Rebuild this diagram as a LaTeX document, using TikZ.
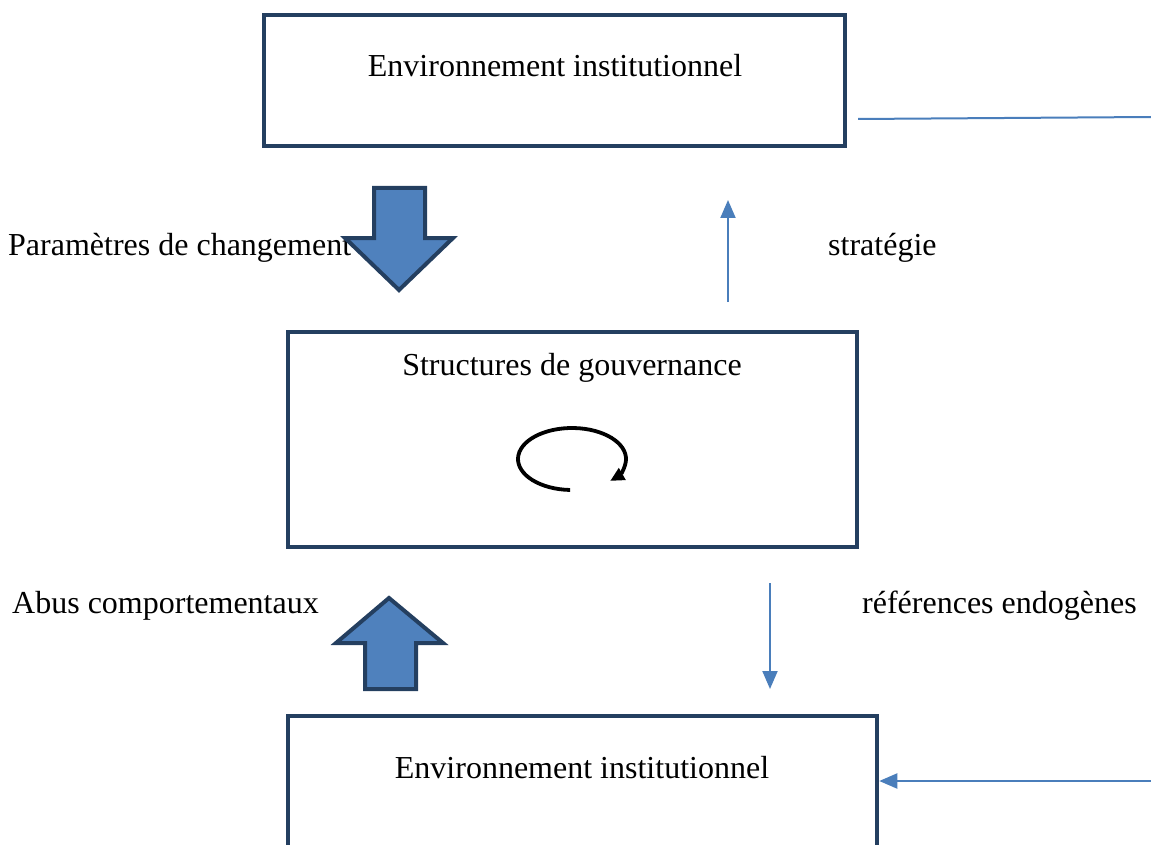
\documentclass[tikz,border=0pt]{standalone}
\usepackage{fontspec}
\setmainfont{Liberation Serif}
\usetikzlibrary{arrows.meta}
\definecolor{navy}{HTML}{243F60}
\definecolor{fillblue}{HTML}{4F81BD}
\definecolor{lineblue}{HTML}{4A7EBB}
\tikzset{
  box/.style={draw=navy, line width=4.5pt, fill=none, inner sep=0pt},
  txt/.style={font=\fontsize{32}{38}\selectfont, inner sep=0pt},
  bigarrow/.style={draw=navy, fill=fillblue, line width=4pt, line join=miter},
  thin/.style={draw=lineblue, line width=2pt},
  thinarrow/.style={thin, -{Triangle[length=18pt,width=15pt]}, color=lineblue},
  cyclearrow/.style={line width=3.8pt, -{Triangle[length=14pt,width=13pt]}},
}
\begin{document}
\begin{tikzpicture}[x=1pt,y=-1pt]
\useasboundingbox (0,0) rectangle (1151,845);
% boxes
\node[box, minimum width=581pt, minimum height=131pt] (topbox) at (554.5,80.5) {};
\node[txt, anchor=base] (toptext) at (555,77) {Environnement institutionnel};
\node[box, minimum width=569pt, minimum height=215pt] (midbox) at (572.5,439.5) {};
\node[txt, anchor=base] (midtext) at (572,375) {Structures de gouvernance};
\node[box, minimum width=589pt, minimum height=200pt] (botbox) at (582.5,816) {};
\node[txt, anchor=base] (bottext) at (582,778) {Environnement institutionnel};
% side labels
\node[txt, anchor=base west] (param) at (8,255) {Paramètres de changement};
\node[txt, anchor=base west] (strat) at (828,255) {stratégie};
\node[txt, anchor=base west] (abus) at (12,613) {Abus comportementaux};
\node[txt, anchor=base west] (refs) at (862,613) {références endogènes};
% big down arrow
\draw[bigarrow] (374,188) -- (425,188) -- (425,238) -- (453,238) -- (399,290) -- (345,238) -- (374,238) -- cycle;
% big up arrow
\draw[bigarrow] (389,598) -- (443,643) -- (416,643) -- (416,689) -- (365,689) -- (365,643) -- (336,643) -- cycle;
% thin connectors
\coordinate (sUp) at (728,302);
\coordinate (eUp) at (728,200);
\draw[thinarrow] (sUp) -- (eUp);
\coordinate (sDown) at (770,583);
\coordinate (eDown) at (770,689);
\draw[thinarrow] (sDown) -- (eDown);
\coordinate (tr1) at (858,119);
\coordinate (tr2) at (1151,117);
\draw[thin] (tr1) -- (tr2);
\coordinate (br) at (1151,781);
\draw[thinarrow] (br) -- (botbox.east |- br);
% circular arrow
\draw[cyclearrow] (572,459) ++(92:54 and 31) arc[start angle=92, end angle=405, x radius=54, y radius=31];
\end{tikzpicture}
\end{document}
